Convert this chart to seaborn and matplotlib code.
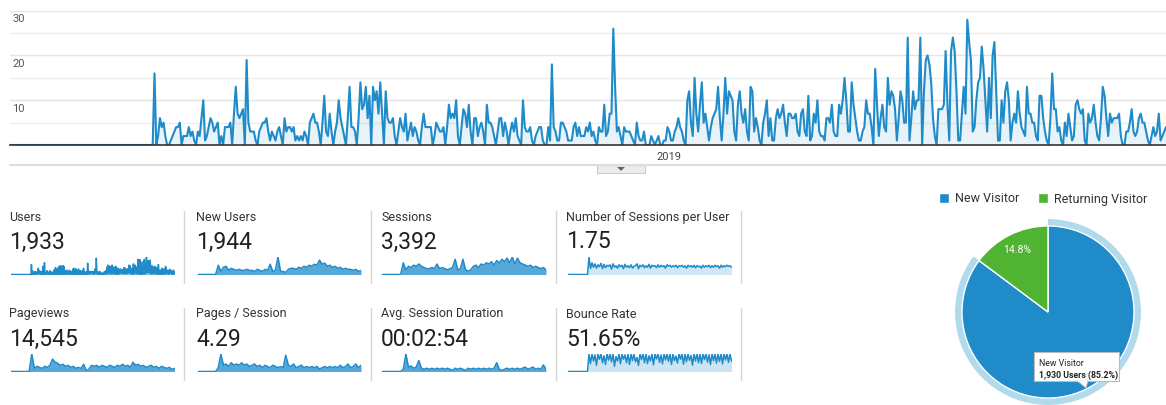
import numpy as np
import pandas as pd
import matplotlib
matplotlib.use("Agg")
import matplotlib.pyplot as plt
from matplotlib.patches import Rectangle, Polygon, Patch
from matplotlib.lines import Line2D
import seaborn as sns

# ---------------- data ----------------
start_date = "2018-01-01"
year_tick = "2019-01-01"
year_label = "2019"
y_ticks_major = [10, 20, 30]
y_ticks_minor = [5, 15, 25]

users_flat = [0] * 80
users_part1 = [16, 0, 2, 6, 4, 5, 2, 0, 0, 1,
               2, 3, 4, 4, 5, 0, 2, 2, 2, 4,
               2, 3, 1, 0, 3, 2, 6, 10, 1, 2,
               4, 6, 5, 3, 4, 5, 0, 2, 0, 4,
               4, 4, 5, 0, 7, 13, 7, 6, 7, 8,
               0, 19, 5, 3, 3, 3, 1, 0, 3, 4,
               5, 5, 6, 3, 1, 3, 2, 1, 3, 4,
               2, 0, 6, 3, 4, 4, 3, 4, 1, 2,
               1, 2, 1, 3, 2, 0, 5, 6, 7, 5,
               5, 3, 0, 5, 11, 3, 2, 7, 3, 0,
               3, 5, 10, 6, 4, 2, 0, 6, 13]
users_part2 = [4, 4, 3, 0, 6, 14, 8, 9, 13, 6, 11,
               0, 13, 10, 12, 7, 14, 7, 0, 12, 6,
               5, 5, 6, 2, 0, 3, 6, 4, 3, 7,
               1, 3, 5, 2, 4, 3, 1, 0, 4, 7,
               4, 4, 4, 4, 0, 2, 5, 4, 3, 3,
               4, 0, 4, 9, 6, 7, 6, 10, 2, 0,
               4, 8, 7, 4, 9, 3, 0, 6, 6, 2,
               4, 5, 3, 0, 9, 5, 5, 4, 2, 0,
               3, 6, 6, 2, 5, 3, 0, 3, 5, 3,
               6, 2, 1, 0, 10, 4, 3, 3, 4, 1,
               0, 2, 3, 4, 4, 1, 0, 0, 4, 1,
               18]
users_part3 = [4, 3, 1, 1, 5, 5, 4, 3, 1, 1,
               1, 4, 5, 2, 4, 2, 2, 2, 4, 3,
               5, 2, 3, 1, 0, 4, 3, 3, 9, 2,
               3, 7, 7, 26, 13, 3, 4, 2, 0, 4,
               3, 3, 3, 2, 1, 0, 5, 2, 1, 1,
               3, 0, 0, 0, 2, 1, 0, 1, 2, 0,
               0, 1, 1, 4, 3, 1, 1, 3, 4, 6,
               4, 3, 1, 0, 10, 12, 5, 2, 15, 7,
               3, 9, 14, 5, 7, 4, 1, 4, 6, 7,
               8, 13, 6, 1, 7, 15, 7, 12, 11, 10,
               3, 1, 9, 12, 7, 5, 8, 3, 1, 13,
               12, 3, 6]
users_part4 = [4, 1, 0, 5, 7, 10, 2,
               6, 1, 1, 6, 8, 6, 7, 9, 5, 2,
               7, 7, 6, 6, 7, 3, 2, 7, 8, 3,
               2, 11, 1, 2, 7, 5, 10, 3, 2, 2,
               1, 6, 6, 5, 9, 3, 2, 2, 9, 7,
               10, 15, 10, 3, 3, 14, 9, 6, 3, 1,
               1, 3, 4, 10, 7, 7, 4, 0, 17, 9,
               2, 6, 9, 4, 3, 15, 9, 12, 11, 8,
               1, 6, 12, 10, 5, 5, 24, 1, 6, 12,
               8, 10, 10, 24, 0, 12, 19, 20, 18, 14,
               6, 2, 0, 8, 8, 8, 9, 21, 9, 1,
               21, 24, 21, 12, 1]
users_part5 = [1, 7, 13, 7, 28,
               23, 19, 3, 4, 10, 14, 15, 22, 17, 10,
               3, 15, 6, 20, 23, 12, 1, 1, 10, 5,
               12, 14, 10, 1, 5, 7, 5, 12, 7, 4,
               3, 2, 13, 7, 7, 5, 5, 2, 1, 11,
               11, 6, 3, 1, 0, 6, 16, 8, 8, 3,
               4, 1, 0, 5, 2, 7, 4, 1, 2, 9,
               10, 8, 7, 8, 1, 0, 7, 5, 6, 9,
               5, 2, 1, 6, 13, 11, 6, 2, 7, 5,
               6, 6, 6, 7, 2, 0, 0, 3, 3, 5,
               8, 3, 2, 3, 6, 7, 5, 5, 3, 1,
               0, 2, 4, 2, 3, 7, 1, 2, 3, 4]

metric_names = ["Users", "New Users", "Sessions", "Number of Sessions per User",
                "Pageviews", "Pages / Session", "Avg. Session Duration", "Bounce Rate"]
metric_values = ["1,933", "1,944", "3,392", "1.75",
                 "14,545", "4.29", "00:02:54", "51.65%"]

spark_new_users = [0, 0, 0, 0, 0, 0, 0, 0, 9, 3, 7, 8, 4, 6, 5, 4, 5, 4, 4, 5, 4, 4,
                   3, 5, 4, 3, 5, 4, 10, 3, 4, 17, 3, 3, 2, 5, 6, 6, 5, 7, 6, 8, 7,
                   9, 8, 10, 9, 14, 10, 11, 8, 9, 7, 8, 6, 7, 5, 6, 5, 5, 4, 5, 3, 4]
spark_sessions = [0, 0, 0, 0, 0, 0, 0, 0, 10, 4, 7, 6, 8, 7, 9, 7, 6, 5, 5, 6, 5, 9,
                  5, 6, 5, 4, 5, 6, 13, 4, 5, 13, 4, 3, 4, 7, 8, 6, 9, 8, 10, 9, 11,
                  8, 12, 10, 13, 11, 14, 10, 15, 9, 14, 10, 9, 8, 7, 8, 6, 7, 6, 5, 6, 4]
spark_sessions_per_user = [0] * 14 + [
    3.6, 1.2, 2.4, 1.5, 2.2, 1.3, 2.0, 1.6, 2.3, 1.2, 2.1, 1.4, 1.9, 1.7, 2.0, 1.1,
    2.2, 1.5, 1.8, 1.3, 2.0, 1.6, 1.9, 1.2, 2.1, 1.5, 1.8, 1.4, 2.0, 1.3, 1.7, 1.8,
    2.2, 1.2, 1.9, 1.6, 2.0, 1.4, 1.8, 1.5, 2.1, 1.3, 1.9, 1.7, 1.8, 1.4, 2.0, 1.5,
    1.9, 1.6, 1.8, 1.3, 2.0, 1.7, 1.9, 1.5, 1.8, 1.6, 1.9, 1.4, 1.8, 1.7, 1.9, 1.5,
    1.8, 1.3, 1.9, 1.6, 1.8, 1.5, 1.9, 1.4, 1.8, 1.6, 1.7, 1.3, 1.9, 1.5, 1.8, 1.6,
    1.9, 1.4, 1.8, 1.5, 1.9, 1.6, 1.8, 1.3, 1.9, 1.5, 1.8, 1.6, 1.9, 1.7, 1.8, 1.5]
spark_pageviews = [0, 0, 0, 0, 0, 0, 0, 0, 17, 3, 5, 4, 3, 5, 4, 6, 12, 9, 8, 6, 7, 5,
                   6, 4, 5, 3, 4, 3, 7, 1, 2, 6, 5, 6, 4, 6, 5, 4, 6, 5, 4, 6, 5,
                   7, 5, 6, 4, 9, 6, 7, 5, 6, 4, 5, 6, 4, 5, 3, 5, 4, 3, 4, 2, 3]
spark_pages_per_session = [0, 0, 0, 0, 0, 0, 0, 0, 3, 14, 5, 6, 4, 7, 5, 6, 5, 7, 5, 6,
                           4, 5, 6, 4, 5, 3, 5, 4, 3, 5, 4, 3, 4, 3, 13, 5, 4, 6, 3, 4,
                           5, 3, 4, 3, 4, 3, 4, 2, 3, 4, 3, 4, 3, 4, 3, 5, 3, 4, 6, 3,
                           4, 6, 3, 5]
spark_avg_duration = [0, 0, 0, 0, 0, 0, 0, 0, 2, 16, 4, 5, 3, 4, 10, 3, 2, 3, 2, 3, 2, 3,
                      2, 3, 2, 3, 2, 1, 3, 2, 3, 2, 1, 3, 2, 3, 2, 3, 2, 3, 2, 3, 2,
                      3, 8, 2, 1, 2, 3, 2, 3, 2, 3, 2, 3, 4, 2, 3, 4, 2, 3, 2, 6, 2]
spark_bounce_rate = [0] * 14 + [
    100, 45, 100, 60, 95, 35, 100, 70, 100, 50,
    90, 40, 100, 65, 100, 55, 100, 30, 85, 60,
    100, 45, 100, 70, 95, 50, 100, 40, 100, 62,
    100, 55, 80, 35, 100, 68, 100, 50, 100, 45,
    90, 60, 100, 38, 100, 72, 100, 52, 95, 44,
    100, 66, 100, 58, 100, 40, 100, 62, 88, 48,
    100, 70, 100, 42, 100, 56, 100, 64, 92, 36,
    100, 60, 100, 50, 100, 46, 100, 68, 100, 54,
    96, 40, 100, 62, 100, 48, 100, 58, 100, 44,
    100, 66, 100, 52, 100, 60]

visitor_types = ["New Visitor", "Returning Visitor"]
visitor_share = [85.2, 14.8]
new_visitor_users = "1,930"

# ---------------- style ----------------
sns.set_style("white")
plt.rcParams["font.family"] = ["Roboto", "DejaVu Sans"]

BLUE = "#1f8bc9"
GREEN = "#50B432"
HALO = "#b1daed"

W, H = 1166, 405
fig = plt.figure(figsize=(W / 100, H / 100), dpi=100)


def px_axes(x0, y0, x1, y1):
    return fig.add_axes([x0 / W, 1 - y1 / H, (x1 - x0) / W, (y1 - y0) / H])


def fx(x):
    return x / W


def fy(y):
    return 1 - y / H


# ---------------- main line chart ----------------
users = users_flat + users_part1 + users_part2 + users_part3 + users_part4 + users_part5
df = pd.DataFrame({"date": pd.date_range(start_date, periods=len(users), freq="D"),
                   "users": users})

ax = px_axes(10, 10.7, 1166, 145)
sns.lineplot(data=df, x="date", y="users", ax=ax, color=BLUE, linewidth=1.5)
ax.fill_between(df["date"], df["users"], 0, color=BLUE, alpha=0.1, linewidth=0)
ax.set_xlim(df["date"].iloc[0], df["date"].iloc[-1])
ax.set_ylim(0, 30)
ax.set_yticks(y_ticks_major)
ax.set_yticks(y_ticks_minor, minor=True)
ax.grid(axis="y", which="major", color="#e4e4e4", linewidth=1)
ax.grid(axis="y", which="minor", color="#efefef", linewidth=1)
ax.grid(axis="x", visible=False)
ax.set_axisbelow(True)
ax.tick_params(axis="y", which="both", length=0, labelleft=False)
for s in ["top", "right", "left"]:
    ax.spines[s].set_visible(False)
ax.spines["bottom"].set_color("#333333")
ax.spines["bottom"].set_linewidth(1.2)
ax.set_xticks([pd.Timestamp(year_tick)])
ax.set_xticklabels([year_label])
ax.tick_params(axis="x", length=0, pad=5, labelsize=8, labelcolor="#444444")
ax.set_xlabel("")
ax.set_ylabel("")
for t in y_ticks_major:
    ax.annotate(str(t), xy=(0, t), xycoords=("axes fraction", "data"),
                xytext=(1.5, -2.6), textcoords="offset points",
                ha="left", va="top", fontsize=8, color="#555555")

# bottom rule and small toggle tab
fig.add_artist(Line2D([fx(10), fx(1166)], [fy(165), fy(165)], color="#dddddd",
                      linewidth=1.5, transform=fig.transFigure))
fig.add_artist(Rectangle((fx(597), fy(173)), 48 / W, 8 / H, transform=fig.transFigure,
                         facecolor="#ececec", edgecolor="#cccccc", linewidth=0.8))
fig.add_artist(Polygon([[fx(617), fy(167)], [fx(625), fy(167)], [fx(621), fy(171)]],
                       closed=True, transform=fig.transFigure,
                       facecolor="#666666", edgecolor="none"))

# ---------------- metric tiles ----------------
spark_data = [users, spark_new_users, spark_sessions, spark_sessions_per_user,
              spark_pageviews, spark_pages_per_session, spark_avg_duration,
              spark_bounce_rate]
spark_fill_alpha = [0.6, 0.75, 0.75, 0.2, 0.75, 0.75, 0.75, 0.22]
col_x = [9.5, 196, 381, 566.5]
title_y = [217.5, 314]
value_y = [242, 339]
spark_top = [257, 354]
spark_bot = [274.5, 371.5]
sep_y = [(211, 283), (308, 380)]

for i, (name, val, series) in enumerate(zip(metric_names, metric_values, spark_data)):
    r, c = divmod(i, 4)
    x0 = col_x[c]
    fig.text(fx(x0), fy(title_y[r]), name, fontsize=9, color="#333333",
             ha="left", va="center")
    fig.text(fx(x0), fy(value_y[r]), val, fontsize=16.5, color="#212121",
             ha="left", va="center")
    sax = px_axes(x0 + 1.5, spark_top[r], x0 + 165, spark_bot[r])
    xs = np.arange(len(series))
    sns.lineplot(x=xs, y=series, ax=sax, color=BLUE, linewidth=1.1)
    sax.fill_between(xs, series, 0, color=BLUE, alpha=spark_fill_alpha[i], linewidth=0)
    sax.set_xlim(0, len(series) - 1)
    sax.set_ylim(0, max(series))
    sax.set_axis_off()
    fig.add_artist(Line2D([fx(x0 + 174.5)] * 2, [fy(sep_y[r][0]), fy(sep_y[r][1])],
                          color="#d6d6d6", linewidth=1, transform=fig.transFigure))

# ---------------- pie chart ----------------
pax = px_axes(955, 219, 1141, 405)
pax.pie(visitor_share, radius=1.0, colors=[HALO, "none"], startangle=90,
        counterclock=False, wedgeprops=dict(linewidth=0))
pax.pie(visitor_share, radius=0.925, colors=[BLUE, GREEN], startangle=90,
        counterclock=False, wedgeprops=dict(edgecolor="white", linewidth=1),
        autopct=lambda p: f"{p:.1f}%" if p < 50 else "", pctdistance=0.8,
        textprops=dict(color="white", fontsize=7.5))
pax.set_xlim(-1, 1)
pax.set_ylim(-1, 1)
pax.set_aspect("equal")

fig.legend(handles=[Patch(facecolor=BLUE), Patch(facecolor=GREEN)], labels=visitor_types,
           loc="center left", bbox_to_anchor=(fx(939), fy(199)), ncol=2, frameon=False,
           fontsize=9, handlelength=0.8, handleheight=0.8, handletextpad=0.45,
           columnspacing=1.55, borderpad=0, borderaxespad=0, labelcolor="#333333")

# tooltip
fig.add_artist(Rectangle((fx(1034), fy(381)), 85 / W, 29 / H, transform=fig.transFigure,
                         facecolor="white", edgecolor="#bbbbbb", linewidth=0.8, zorder=10))
fig.add_artist(Polygon([[fx(1077), fy(380.6)], [fx(1088), fy(380.6)], [fx(1086), fy(388)]],
                       closed=True, transform=fig.transFigure, facecolor="white",
                       edgecolor="#bbbbbb", linewidth=0.8, zorder=10))
fig.add_artist(Line2D([fx(1077.6), fx(1087.4)], [fy(381), fy(381)], color="white",
                      linewidth=1.2, transform=fig.transFigure, zorder=11))
fig.text(fx(1039), fy(363), visitor_types[0], fontsize=6.3, color="#222222",
         ha="left", va="center", zorder=12)
fig.text(fx(1039), fy(375), f"{new_visitor_users} Users ({visitor_share[0]}%)",
         fontsize=6.3, color="#222222", fontweight="bold", ha="left", va="center", zorder=12)

fig.savefig("out.png", dpi=100)
